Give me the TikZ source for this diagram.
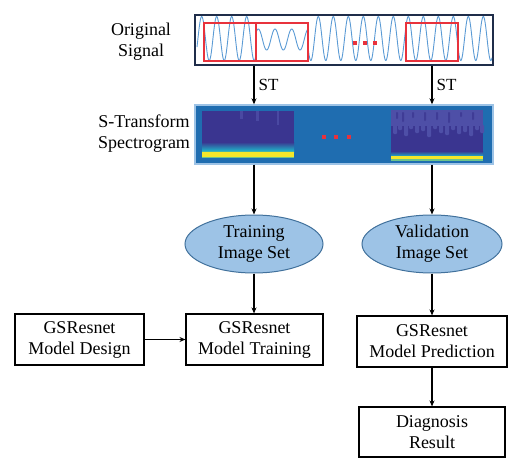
\documentclass[tikz,border=0pt]{standalone}
\usepackage{fontspec}
\setmainfont{Liberation Serif}
\usetikzlibrary{arrows.meta,shapes.geometric}
\definecolor{navy}{HTML}{1F2D4A}
\definecolor{wave}{HTML}{5B9BD5}
\definecolor{sigred}{HTML}{E8323C}
\definecolor{specblue}{HTML}{1F6DB0}
\definecolor{specedge}{HTML}{9DC3E6}
\definecolor{ellfill}{HTML}{9DC3E6}
\definecolor{elledge}{HTML}{41719C}
\definecolor{pdark}{HTML}{3A3590}
\definecolor{plight}{HTML}{5557AE}
\definecolor{pcyan}{HTML}{22A8C4}
\definecolor{pgreen}{HTML}{6CC38A}
\definecolor{pyellow}{HTML}{F5E72A}
\begin{document}
\begin{tikzpicture}[x=1pt,y=-1pt,
  txt/.style={font=\fontsize{18}{21}\selectfont, align=center, inner sep=0pt},
  box/.style={txt, draw, line width=1.1pt, inner sep=0pt},
  ell/.style={txt, ellipse, draw=elledge, fill=ellfill, line width=1pt, minimum width=138pt, minimum height=58pt},
  arr/.style={line width=1.1pt, -{Stealth[length=6pt,width=5pt]}}]
\useasboundingbox (0,0) rectangle (528,471);

% labels on the left
\node[txt] (orig) at (141,42) {Original\\Signal};
\node[txt] (stl) at (144,134) {S-Transform\\Spectrogram};

% signal panel
\node[draw=navy, line width=1.6pt, fill=white, minimum width=298pt, minimum height=50pt, inner sep=0pt] (sig) at (344,40) {};
\begin{scope}
\clip (196,16) rectangle (492,64);
\draw[wave, line width=0.9pt] plot[domain=197:256, samples=160] (\x, {38.5-22*cos(24*(\x-201.7))});
\draw[wave, line width=0.9pt] plot[domain=256:308, samples=140] (\x, {39.5-10.5*cos(21.557*(\x-258.3))});
\draw[wave, line width=0.9pt] plot[domain=308:492, samples=480] (\x, {38.5-22*cos(24*(\x-318.3))});
\end{scope}
\draw[sigred, line width=1.4pt] (204,23) rectangle (256,61);
\draw[sigred, line width=1.4pt] (256,23) rectangle (308,61);
\draw[sigred, line width=1.4pt] (406,23) rectangle (458,61);
\foreach \xx in {355,365,375} \fill[sigred] (\xx-1.6,41.4) rectangle (\xx+1.6,44.6);

% spectrogram panel
\node[draw=specedge, fill=specblue, line width=1.4pt, minimum width=298pt, minimum height=59pt, inner sep=0pt] (spec) at (344,134.5) {};
% left image
\fill[pdark] (202,111) rectangle (294,158);
\fill[plight!60!pdark] (240,111) rectangle (242.5,119);
\fill[plight!60!pdark] (256,111) rectangle (258.5,121);
\fill[plight!60!pdark] (277,111) rectangle (279,125);
\shade[top color=pdark, bottom color=pcyan] (202,142) rectangle (294,150);
\shade[top color=pcyan, bottom color=pgreen] (202,150) rectangle (294,152);
\fill[pyellow] (202,152) rectangle (294,157);
\fill[pgreen] (202,157) rectangle (294,158);
% right image
\fill[pdark] (391,110) rectangle (483,161);
\fill[plight!75!pdark] (391,110) rectangle (483,126);
\foreach \xx/\hh in {393/134,398/130,404/136,409/129,415/133,421/131,427/137,433/129,439/133,445/135,451/130,457/134,463/132,469/136,475/130,480/133}
  \fill[plight!75!pdark, rounded corners=1pt] (\xx,125) rectangle (\xx+4,\hh);
\foreach \xx/\hh in {396/119,402/122,412/118,424/121,436/120,448/123,460/117,472/120}
  \fill[pdark!80!plight, rounded corners=0.8pt] (\xx,112) rectangle (\xx+2,\hh);
\shade[top color=pdark, bottom color=pcyan] (391,151) rectangle (483,156);
\fill[pyellow] (391,156) rectangle (483,159);
\fill[pgreen] (391,159) rectangle (483,161);
\foreach \xx in {324,336,349} \fill[sigred] (\xx-1.7,135.3) rectangle (\xx+1.7,138.7);

% ellipses
\node[ell] (train) at (254,244) {Training\\Image Set};
\node[ell, minimum width=140pt] (valid) at (432,244) {Validation\\Image Set};

% boxes
\node[box, minimum width=129pt, minimum height=51pt] (design) at (79.5,339.5) {GSResnet\\Model Design};
\node[box, minimum width=137pt, minimum height=51pt] (trainbox) at (254.5,339.5) {GSResnet\\Model Training};
\node[box, minimum width=150pt, minimum height=51pt] (pred) at (432,341.5) {GSResnet\\Model Prediction};
\node[box, minimum width=146pt, minimum height=50pt] (diag) at (432,432) {Diagnosis\\Result};

% arrows
\draw[arr] (sig.south -| train.north) -- (spec.north -| train.north) node[txt, midway, right=4pt, font=\fontsize{17}{20}\selectfont] (st1) {ST};
\draw[arr] (sig.south -| valid.north) -- (spec.north -| valid.north) node[txt, midway, right=4pt, font=\fontsize{17}{20}\selectfont] (st2) {ST};
\draw[arr] (spec.south -| train.north) -- (train.north);
\draw[arr] (spec.south -| valid.north) -- (valid.north);
\draw[arr] (train.south) -- (trainbox.north -| train.south);
\draw[arr] (valid.south) -- (pred.north -| valid.south);
\draw[arr] (pred.south) -- (diag.north);
\draw[arr] (design.east) -- (trainbox.west);
\end{tikzpicture}
\end{document}
